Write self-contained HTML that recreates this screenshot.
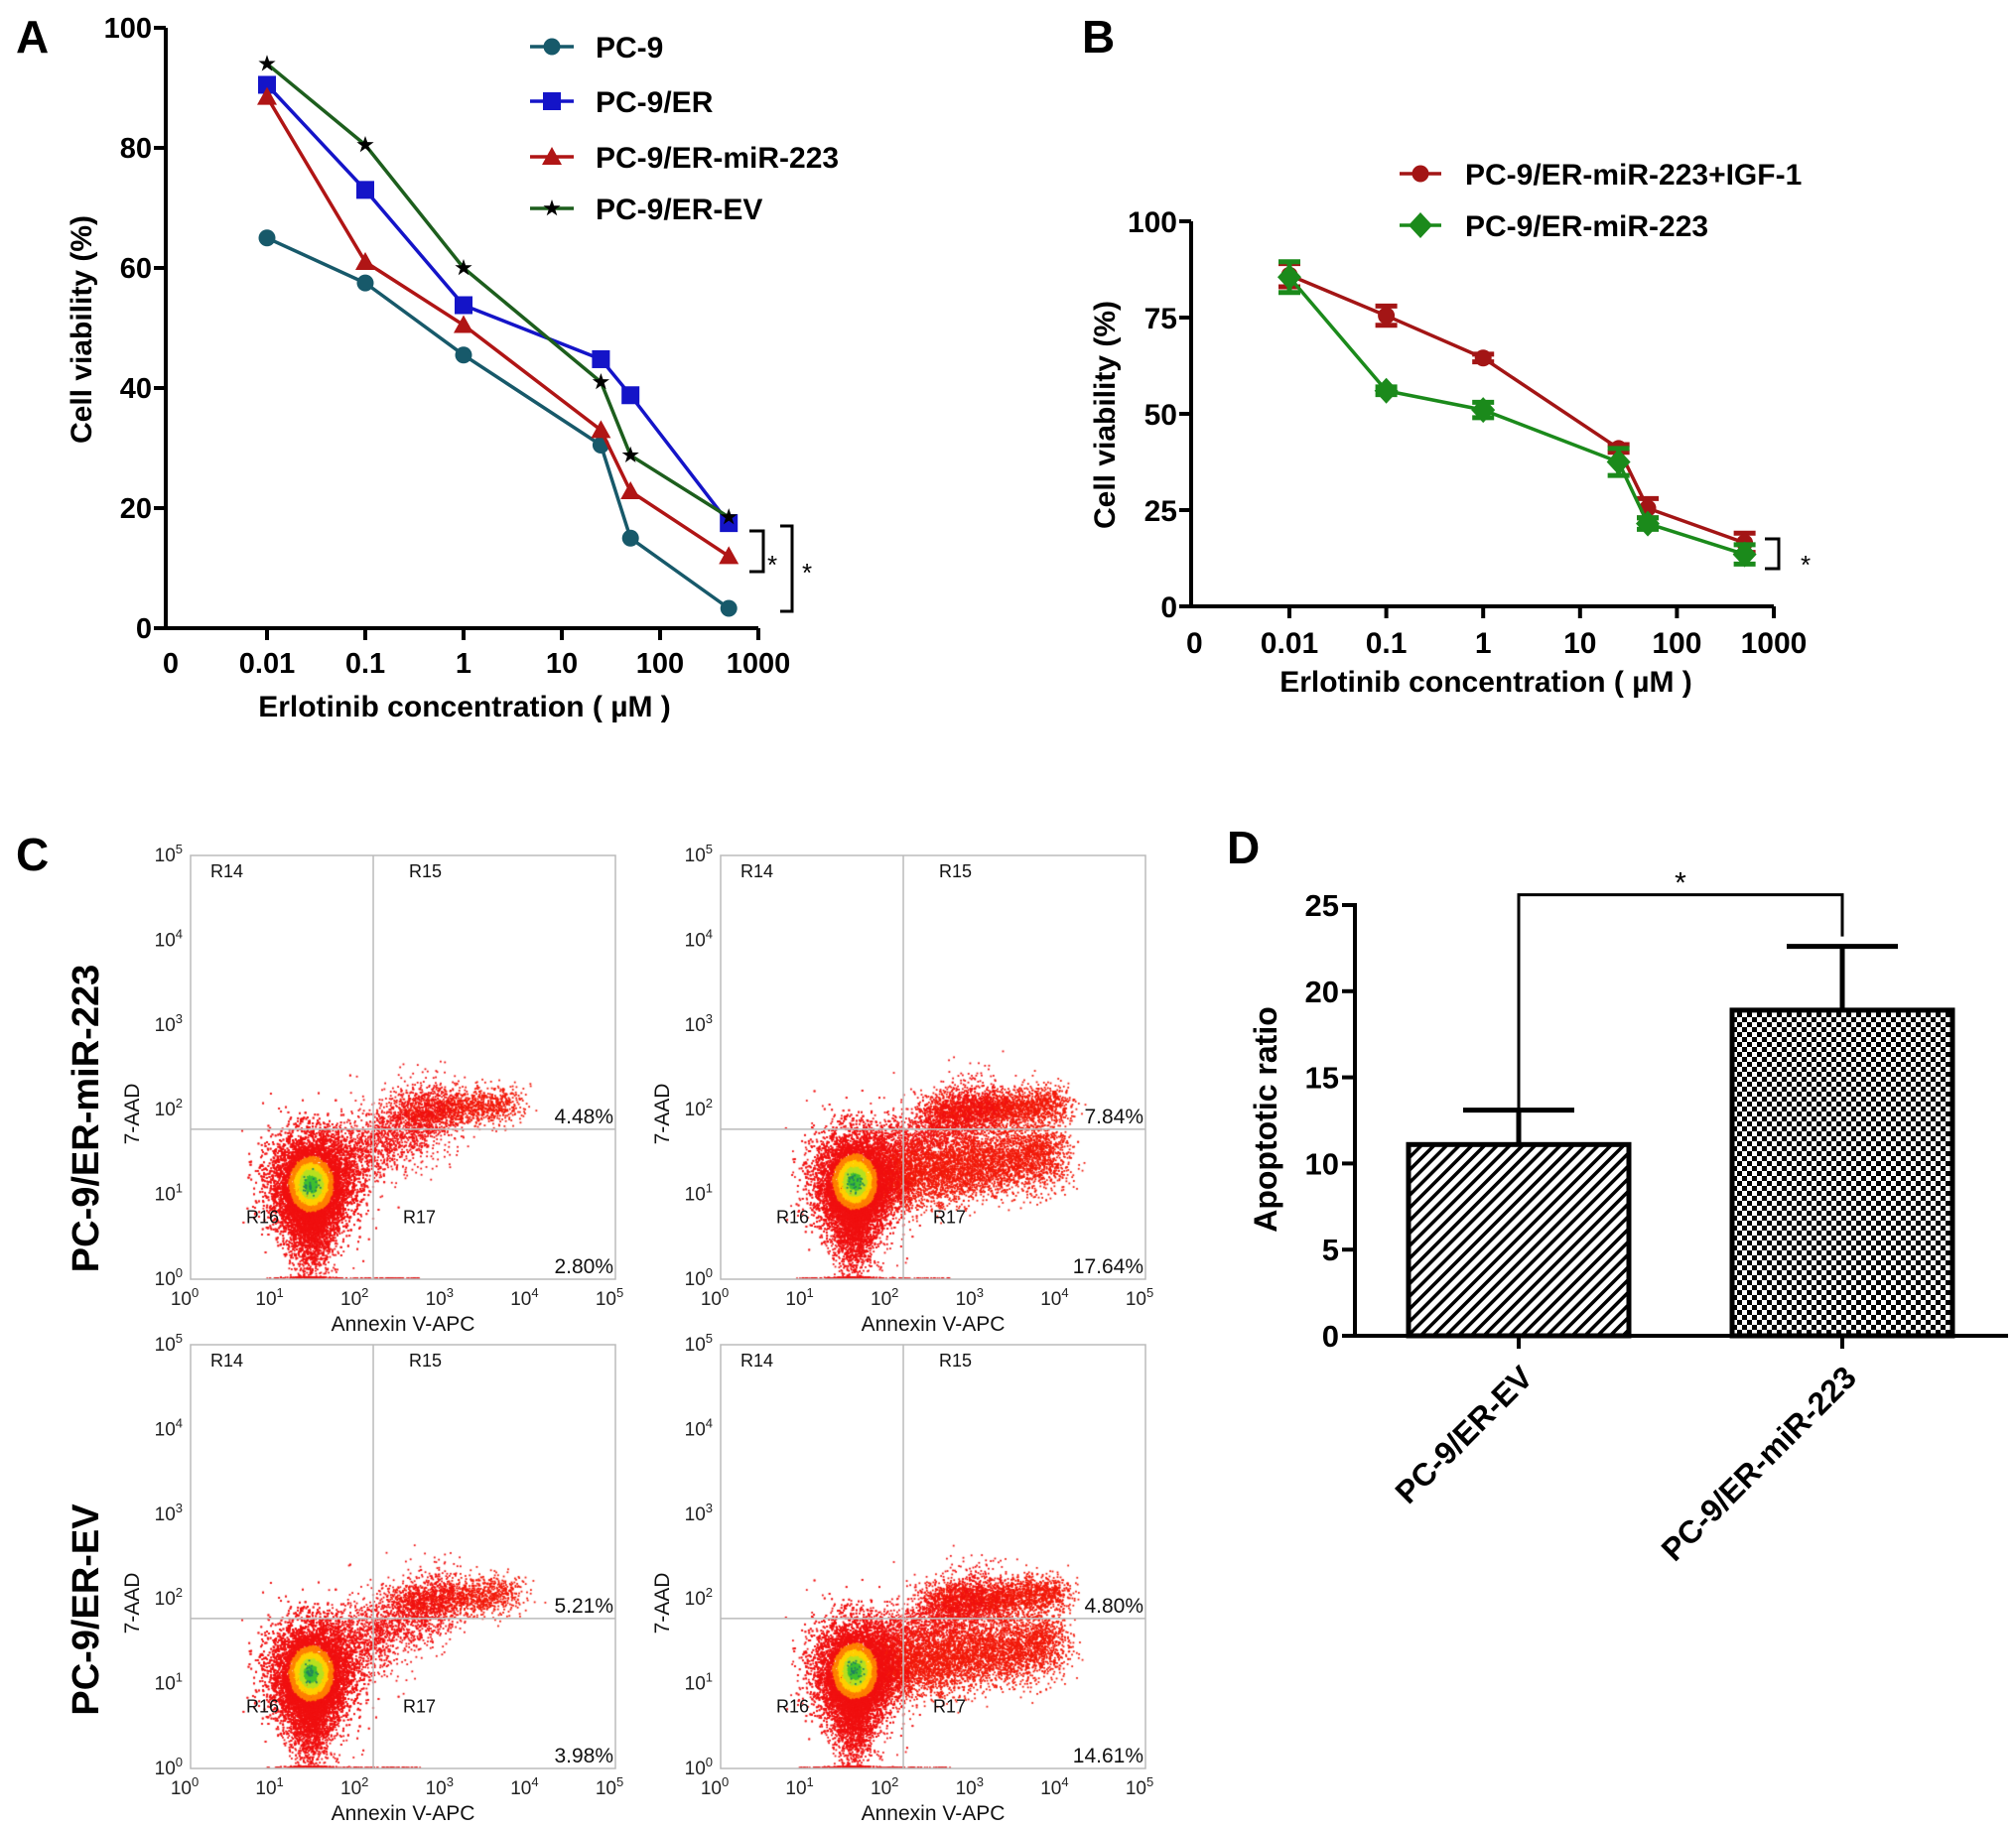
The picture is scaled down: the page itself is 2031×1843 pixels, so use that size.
<!DOCTYPE html>
<html><head><meta charset="utf-8">
<style>
html,body{margin:0;padding:0;background:#fff;}
#wrap{position:relative;width:2031px;height:1843px;overflow:hidden;}
svg{position:absolute;left:0;top:0;}
canvas{position:absolute;}
text{font-family:"Liberation Sans",Arial,sans-serif;}
</style></head>
<body>
<div id="wrap">
<svg id="fig" width="2031" height="1843" viewBox="0 0 2031 1843">
<defs>
<pattern id="hatch" patternUnits="userSpaceOnUse" width="9" height="9" patternTransform="rotate(45)">
<rect width="9" height="9" fill="#fff"/><rect x="0" y="0" width="3.5" height="9" fill="#000"/>
</pattern>
<pattern id="checker" patternUnits="userSpaceOnUse" width="10" height="10">
<rect width="10" height="10" fill="#fff"/><rect x="0" y="0" width="5" height="5" fill="#000"/><rect x="5" y="5" width="5" height="5" fill="#000"/>
</pattern>
</defs>
</svg>
</div>
<script>
// ===== Panel A data =====
const aConc = [0.01, 0.1, 1, 25, 50, 500];
const aSeriesNames = ["PC-9", "PC-9/ER", "PC-9/ER-miR-223", "PC-9/ER-EV"];
const aPC9 = [65, 57.5, 45.5, 30.5, 15, 3.3];
const aPC9ER = [90.5, 73, 53.8, 44.8, 38.8, 17.5];
const aMiR = [88.5, 61, 50.5, 33, 22.8, 12];
const aEV = [94, 80.5, 60, 41, 28.8, 18.5];
const aYTicks = [0, 20, 40, 60, 80, 100];
const aXTickLabels = ["0", "0.01", "0.1", "1", "10", "100", "1000"];
// ===== Panel B data =====
const bConc = [0.01, 0.1, 1, 25, 50, 500];
const bIGF = [86, 75.5, 64.5, 41, 25.5, 16.5];
const bIGFErr = [3, 2.5, 1, 1, 2.5, 2.5];
const bMiR = [85.5, 56, 51, 37.5, 21.5, 13.5];
const bMiRErr = [4, 1, 2, 3.5, 1.5, 2.5];
const bYTicks = [0, 25, 50, 75, 100];
const bXTickLabels = ["0", "0.01", "0.1", "1", "10", "100", "1000"];
// ===== Panel D data =====
const dCats = ["PC-9/ER-EV", "PC-9/ER-miR-223"];
const dVals = [11.1, 18.9];
const dErr = [2.0, 3.7];
const dYTicks = [0, 5, 10, 15, 20, 25];
// ===== Panel C data (percent gates) =====
const cUpperPct = ["4.48%", "7.84%", "5.21%", "4.80%"];
const cLowerPct = ["2.80%", "17.64%", "3.98%", "14.61%"];

const NS = "http://www.w3.org/2000/svg";
const svg = document.getElementById("fig");
function mk(tag, attrs, parent) {
  const e = document.createElementNS(NS, tag);
  for (const k in attrs) e.setAttribute(k, attrs[k]);
  (parent || svg).appendChild(e);
  return e;
}
function txt(str, attrs, parent) { const t = mk("text", attrs, parent); t.textContent = str; return t; }
const BOLD = {"font-weight": "bold", fill: "#000"};
function merge(a, b) { return Object.assign({}, a, b); }

// ---------- Panel A ----------
const A = {x0: 167, xEnd: 764, xDec0: 269, dec: 99, y0: 633, y100: 28};
const ax = v => A.xDec0 + (Math.log10(v) + 2) * A.dec;
const ay = v => A.y0 - (v / 100) * (A.y0 - A.y100);
const gA = mk("g", {});


let e = txt("A", merge(BOLD, {x: 16, y: 53, "font-size": 46}), gA);


e = mk("line", {x1: A.x0, y1: A.y0, x2: A.x0, y2: A.y100, stroke: "#000", "stroke-width": 4}, gA);


e = mk("line", {x1: A.x0 - 2, y1: A.y0, x2: A.xEnd, y2: A.y0, stroke: "#000", "stroke-width": 4}, gA);


aYTicks.forEach(v => {
  const l = mk("line", {x1: A.x0 - 12, y1: ay(v), x2: A.x0, y2: ay(v), stroke: "#000", "stroke-width": 4}, gA);
  
  
  const t = txt(String(v), merge(BOLD, {x: A.x0 - 14, y: ay(v) + 10, "font-size": 29, "text-anchor": "end"}), gA);
  
  
});
aXTickLabels.forEach((s, i) => {
  const x = A.xDec0 + (i - 1) * A.dec;
  if (i > 0) {
    const l = mk("line", {x1: x, y1: A.y0, x2: x, y2: A.y0 + 12, stroke: "#000", "stroke-width": 4}, gA);
    
    
  }
  const t = txt(s, merge(BOLD, {x: i === 0 ? x + 2 : x, y: 678, "font-size": 29, "text-anchor": "middle"}), gA);
  
  
});
e = txt("Erlotinib concentration ( µM )", merge(BOLD, {x: 468, y: 722, "font-size": 30, "text-anchor": "middle"}), gA);


e = txt("Cell viability (%)", merge(BOLD, {x: 0, y: 0, "font-size": 30, "text-anchor": "middle", transform: "translate(92,332) rotate(-90)"}), gA);



function marker(g, type, x, y, color) {
  let m;
  if (type === "circle") m = mk("circle", {cx: x, cy: y, r: 8.5, fill: color}, g);
  else if (type === "square") m = mk("rect", {x: x - 9, y: y - 9, width: 18, height: 18, fill: color}, g);
  else if (type === "triangle") m = mk("polygon", {points: `${x},${y - 10} ${x + 10},${y + 8} ${x - 10},${y + 8}`, fill: color}, g);
  else if (type === "star") {
    let p = [];
    for (let k = 0; k < 10; k++) {
      const r = k % 2 ? 3.5 : 9, a = -Math.PI / 2 + k * Math.PI / 5;
      p.push((x + r * Math.cos(a)).toFixed(1) + "," + (y + r * Math.sin(a)).toFixed(1));
    }
    m = mk("polygon", {points: p.join(" "), fill: "#000"}, g);
  } else if (type === "diamond") m = mk("polygon", {points: `${x},${y - 13} ${x + 12},${y} ${x},${y + 13} ${x - 12},${y}`, fill: color}, g);
  return m;
}
const aSeries = [aPC9, aPC9ER, aMiR, aEV];
const aColors = ["#17596a", "#1414c8", "#b01515", "#1d5e1d"];
const aMarkers = ["circle", "square", "triangle", "star"];
const aSlugs = ["pc9", "pc9-er", "pc9-er-mir223", "pc9-er-ev"];
aSeries.forEach((vals, si) => {
  const g = mk("g", {}, gA);
  
  
  const pts = vals.map((v, i) => ax(aConc[i]).toFixed(1) + "," + ay(v).toFixed(1)).join(" ");
  const pl = mk("polyline", {points: pts, fill: "none", stroke: aColors[si], "stroke-width": 3.5}, g);
  
  
  vals.forEach((v, i) => {
    const m = marker(g, aMarkers[si], ax(aConc[i]), ay(v), aColors[si]);
    
    
  });
  const ly = [47, 102, 158, 210][si];
  const ll = mk("line", {x1: 534, y1: ly, x2: 578, y2: ly, stroke: aColors[si], "stroke-width": 3.5}, g);
  
  
  const lm = marker(g, aMarkers[si], 556, ly, aColors[si]);
  
  
  const lt = txt(aSeriesNames[si], merge(BOLD, {x: 600, y: ly + 11, "font-size": 30}), g);
  
  
});
e = mk("polyline", {points: "755,535 769,535 769,576 755,576", fill: "none", stroke: "#000", "stroke-width": 3}, gA);


e = txt("*", {x: 773, y: 578, "font-size": 26, fill: "#000"}, gA);


e = mk("polyline", {points: "786,530 798,530 798,616 786,616", fill: "none", stroke: "#000", "stroke-width": 3}, gA);


e = txt("*", {x: 808, y: 586, "font-size": 26, fill: "#000"}, gA);



// ---------- Panel B ----------
const B = {x0: 1200, xEnd: 1787, xDec0: 1299, dec: 97.6, y0: 611, y100: 223};
const bx = v => B.xDec0 + (Math.log10(v) + 2) * B.dec;
const by = v => B.y0 - (v / 100) * (B.y0 - B.y100);
const gB = mk("g", {});


e = txt("B", merge(BOLD, {x: 1090, y: 53, "font-size": 46}), gB);


e = mk("line", {x1: B.x0, y1: B.y0, x2: B.x0, y2: B.y100, stroke: "#000", "stroke-width": 4}, gB);


e = mk("line", {x1: B.x0 - 2, y1: B.y0, x2: B.xEnd, y2: B.y0, stroke: "#000", "stroke-width": 4}, gB);


bYTicks.forEach(v => {
  const l = mk("line", {x1: B.x0 - 12, y1: by(v), x2: B.x0, y2: by(v), stroke: "#000", "stroke-width": 4}, gB);
  
  
  const t = txt(String(v), merge(BOLD, {x: B.x0 - 14, y: by(v) + 11, "font-size": 30, "text-anchor": "end"}), gB);
  
  
});
bXTickLabels.forEach((s, i) => {
  const x = B.xDec0 + (i - 1) * B.dec;
  if (i > 0) {
    const l = mk("line", {x1: x, y1: B.y0, x2: x, y2: B.y0 + 12, stroke: "#000", "stroke-width": 4}, gB);
    
    
  }
  const t = txt(s, merge(BOLD, {x: i === 0 ? x + 2 : x, y: 658, "font-size": 30, "text-anchor": "middle"}), gB);
  
  
});
e = txt("Erlotinib concentration ( µM )", merge(BOLD, {x: 1497, y: 697, "font-size": 30, "text-anchor": "middle"}), gB);


e = txt("Cell viability (%)", merge(BOLD, {x: 0, y: 0, "font-size": 30, "text-anchor": "middle", transform: "translate(1123,418) rotate(-90)"}), gB);


const bSeries = [bIGF, bMiR], bErrs = [bIGFErr, bMiRErr];
const bNames = ["PC-9/ER-miR-223+IGF-1", "PC-9/ER-miR-223"];
const bColors = ["#a31515", "#1b8a1b"], bMarks = ["circle", "diamond"], bSlugs = ["mir223-igf1", "mir223"];
bSeries.forEach((vals, si) => {
  const g = mk("g", {}, gB);
  
  
  const pts = vals.map((v, i) => bx(bConc[i]).toFixed(1) + "," + by(v).toFixed(1)).join(" ");
  const pl = mk("polyline", {points: pts, fill: "none", stroke: bColors[si], "stroke-width": 3.5}, g);
  
  
  vals.forEach((v, i) => {
    const x = bx(bConc[i]), er = bErrs[si][i];
    const eb = mk("path", {d: `M${x},${by(v - er)}V${by(v + er)}M${x - 11},${by(v - er)}H${x + 11}M${x - 11},${by(v + er)}H${x + 11}`, stroke: bColors[si], "stroke-width": 5, fill: "none"}, g);
    
    
    const m = marker(g, bMarks[si], x, by(v), bColors[si]);
    
    
  });
  const ly = [175, 227][si];
  const ll = mk("line", {x1: 1410, y1: ly, x2: 1452, y2: ly, stroke: bColors[si], "stroke-width": 3.5}, g);
  
  
  const lm = marker(g, bMarks[si], 1431, ly, bColors[si]);
  
  
  const lt = txt(bNames[si], merge(BOLD, {x: 1476, y: ly + 11, "font-size": 30}), g);
  
  
});
e = mk("polyline", {points: "1778,543 1792,543 1792,573 1778,573", fill: "none", stroke: "#000", "stroke-width": 3}, gB);


e = txt("*", {x: 1814, y: 578, "font-size": 26, fill: "#000"}, gB);



// ---------- Panel C ----------
const gC = mk("g", {});


e = txt("C", merge(BOLD, {x: 16, y: 877, "font-size": 46}), gC);


e = txt("PC-9/ER-miR-223", merge(BOLD, {x: 0, y: 0, "font-size": 38, "text-anchor": "middle", transform: "translate(99,1127) rotate(-90)"}), gC);


e = txt("PC-9/ER-EV", merge(BOLD, {x: 0, y: 0, "font-size": 38, "text-anchor": "middle", transform: "translate(99,1622) rotate(-90)"}), gC);



const flowPlots = [{ox: 0, oy: 0}, {ox: 534, oy: 0}, {ox: 0, oy: 493}, {ox: 534, oy: 493}];
let seed = 12345;
function rnd() { seed = (seed * 1103515245 + 12345) & 0x7fffffff; return seed / 0x7fffffff; }
function gauss() { let u = rnd() || 1e-6, v = rnd(); return Math.sqrt(-2 * Math.log(u)) * Math.cos(2 * Math.PI * v); }
const wrap = document.getElementById("wrap");
flowPlots.forEach((p, pi) => {
  const L = 192 + p.ox, R = 620 + p.ox, T = 862 + p.oy, Bt = 1289 + p.oy;
  const dx = (R - L) / 5, dy = (Bt - T) / 5;
  const fx = lx => L + lx * dx, fy = lyv => Bt - lyv * dy;
  const g = mk("g", {}, gC);
  
  
  const box = mk("rect", {x: L, y: T, width: R - L, height: Bt - T, fill: "none", stroke: "#bbb", "stroke-width": 1.5}, g);
  
  
  const gv = mk("line", {x1: fx(2.15), y1: T, x2: fx(2.15), y2: Bt, stroke: "#bbb", "stroke-width": 1.5}, g);
  
  
  const gh = mk("line", {x1: L, y1: fy(1.77), x2: R, y2: fy(1.77), stroke: "#bbb", "stroke-width": 1.5}, g);
  
  
  for (let k = 0; k <= 5; k++) {
    const t1 = txt("10", {x: L - 8, y: fy(k) + 6, "font-size": 19, "text-anchor": "end", fill: "#222"}, g);
    const s1 = mk("tspan", {dy: -8, "font-size": 13}, t1); s1.textContent = String(k);
    
    
    const t2 = txt("10", {x: fx(k) - 6, y: Bt + 26, "font-size": 19, "text-anchor": "middle", fill: "#222"}, g);
    const s2 = mk("tspan", {dy: -8, "font-size": 13}, t2); s2.textContent = String(k);
    
    
  }
  const xt = txt("Annexin V-APC", {x: (L + R) / 2, y: Bt + 52, "font-size": 21, "text-anchor": "middle", fill: "#111"}, g);
  
  
  const yt = txt("7-AAD", {x: 0, y: 0, "font-size": 21, "text-anchor": "middle", fill: "#111", transform: `translate(${L - 52},${fy(1.95)}) rotate(-90)`}, g);
  
  
  [["R14", L + 20, T + 22], ["R15", fx(2.15) + 36, T + 22], ["R16", L + 56, fy(0.66)], ["R17", L + 214, fy(0.66)]].forEach(r => {
    const t = txt(r[0], {x: r[1], y: r[2], "font-size": 18, fill: "#111"}, g);
    
    
  });
  const up = txt(cUpperPct[pi], {x: R - 2, y: fy(1.77) - 6, "font-size": 21, "text-anchor": "end", fill: "#111"}, g);
  
  
  const lo = txt(cLowerPct[pi], {x: R - 2, y: Bt - 6, "font-size": 21, "text-anchor": "end", fill: "#111"}, g);
  
  

  const cv = document.createElement("canvas");
  cv.width = R - L; cv.height = Bt - T;
  cv.style.left = L + "px"; cv.style.top = T + "px";
  
  
  wrap.insertBefore(cv, svg);
  const ctx = cv.getContext("2d");
  const right = pi % 2 === 1;
  const cxL = right ? 1.58 : 1.42, cyL = right ? 1.15 : 1.12;
  const dot = (lx, lyv, col) => {
    if (lx < 0 || lx > 5 || lyv < 0 || lyv > 5) return;
    ctx.fillStyle = col; ctx.fillRect(lx * dx - 0.9, (5 - lyv) * dy - 0.9, 1.8, 1.8);
  };
  for (let i = 0; i < 3000; i++) {
    const yy = cyL - Math.abs(gauss()) * 0.5; dot(cxL + gauss() * 0.14, Math.max(yy, 0.02), "#f01010");
  }
  const nUp = right ? 2200 : 1300;
  for (let i = 0; i < nUp; i++) {
    const t = rnd(); dot((right ? 2.5 : 2.5) + t * (right ? 1.5 : 1.3) + gauss() * 0.12, 1.95 + t * 0.12 + gauss() * 0.11, "#f21a0a");
  }
  for (let i = 0; i < 2000; i++) {
    const t = rnd(); dot(cxL + 0.2 + t * 1.4 + gauss() * 0.17, cyL + 0.2 + t * 0.7 + gauss() * 0.22, "#f01010");
  }
  if (right) {
    for (let i = 0; i < 5000; i++) {
      const t = rnd(); dot(cxL + 0.2 + t * 2.2 + gauss() * 0.12, 1.15 + t * 0.35 + gauss() * 0.2, "#f21a0a");
    }
  }
  for (let i = 0; i < 150; i++) dot(0.9 + rnd() * 1.8, 0.01, "#e02020");
  const nBlob = right ? 9000 : 11000;
  for (let i = 0; i < nBlob; i++) {
    const gx = gauss(), gy = gauss(), r2 = gx * gx + gy * gy;
    let col = "#f01010";
    if (r2 < 0.12) col = "#40c030"; else if (r2 < 0.35) col = "#b8e020"; else if (r2 < 0.7) col = "#ffd000"; else if (r2 < 1.2) col = "#ff8000";
    dot(cxL + gx * 0.24, cyL + gy * 0.3, col);
  }
  for (let i = 0; i < 30; i++) dot(cxL + gauss() * 0.05, cyL + gauss() * 0.07, "#208060");
});

// ---------- Panel D ----------
const D = {x0: 1365, xEnd: 2023, y0: 1346, y25: 912};
const dy = v => D.y0 - (v / 25) * (D.y0 - D.y25);
const dBarL = [1419, 1745], dBarW = 222;
const gD = mk("g", {});


e = txt("D", merge(BOLD, {x: 1236, y: 870, "font-size": 46}), gD);


e = txt("Apoptotic ratio", merge(BOLD, {x: 0, y: 0, "font-size": 32, "text-anchor": "middle", transform: "translate(1286,1128) rotate(-90)"}), gD);


dVals.forEach((v, i) => {
  const b = mk("rect", {x: dBarL[i], y: dy(v), width: dBarW, height: D.y0 - dy(v), fill: i === 0 ? "url(#hatch)" : "url(#checker)", stroke: "#000", "stroke-width": 5}, gD);
  
  
  const cx = dBarL[i] + dBarW / 2;
  const eb = mk("path", {d: `M${cx},${dy(v)}V${dy(v + dErr[i])}M${cx - 56},${dy(v + dErr[i])}H${cx + 56}`, stroke: "#000", "stroke-width": 5, fill: "none"}, gD);
  
  
  const tk = mk("line", {x1: cx, y1: D.y0, x2: cx, y2: D.y0 + 13, stroke: "#000", "stroke-width": 4}, gD);
  
  
  const lab = txt(dCats[i], merge(BOLD, {x: 0, y: 0, "font-size": 32, "text-anchor": "end", transform: `translate(${cx + 16},${D.y0 + 44}) rotate(-45)`}), gD);
  
  
});
e = mk("line", {x1: D.x0, y1: D.y0, x2: D.x0, y2: D.y25 - 2, stroke: "#000", "stroke-width": 4}, gD);


e = mk("line", {x1: D.x0 - 2, y1: D.y0, x2: D.xEnd, y2: D.y0, stroke: "#000", "stroke-width": 4}, gD);


dYTicks.forEach(v => {
  const l = mk("line", {x1: D.x0 - 13, y1: dy(v), x2: D.x0, y2: dy(v), stroke: "#000", "stroke-width": 4}, gD);
  
  
  const t = txt(String(v), merge(BOLD, {x: D.x0 - 16, y: dy(v) + 11, "font-size": 31, "text-anchor": "end"}), gD);
  
  
});
const sigY = dy(25.6);
const c0 = dBarL[0] + dBarW / 2, c1 = dBarL[1] + dBarW / 2;
e = mk("path", {d: `M${c0},${dy(dVals[0] + dErr[0])}V${sigY}H${c1}V${dy(dVals[1] + dErr[1]) - 10}`, stroke: "#000", "stroke-width": 3, fill: "none"}, gD);


e = txt("*", {x: (c0 + c1) / 2, y: sigY - 2, "font-size": 30, "text-anchor": "middle", fill: "#000"}, gD);


</script>
</body></html>
